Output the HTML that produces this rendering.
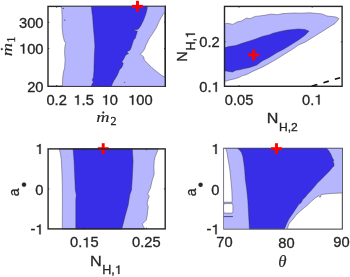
<!DOCTYPE html>
<html><head><meta charset="utf-8"><style>
html,body{margin:0;padding:0;background:#fff;width:350px;height:277px;overflow:hidden}
svg{display:block;filter:blur(0.35px);font-family:"Liberation Sans",sans-serif}
</style></head><body>
<svg width="350" height="277" viewBox="0 0 350 277">
<rect x="48.0" y="6.4" width="117.30000000000001" height="79.89999999999999" fill="none" stroke="#262626" stroke-width="1.4"/>
<line x1="56.6" y1="86.3" x2="56.6" y2="85.0" stroke="#262626" stroke-width="0.8"/><line x1="56.6" y1="6.4" x2="56.6" y2="7.7" stroke="#262626" stroke-width="0.8"/><line x1="83.6" y1="86.3" x2="83.6" y2="85.0" stroke="#262626" stroke-width="0.8"/><line x1="83.6" y1="6.4" x2="83.6" y2="7.7" stroke="#262626" stroke-width="0.8"/><line x1="109.8" y1="86.3" x2="109.8" y2="85.0" stroke="#262626" stroke-width="0.8"/><line x1="109.8" y1="6.4" x2="109.8" y2="7.7" stroke="#262626" stroke-width="0.8"/><line x1="140.3" y1="86.3" x2="140.3" y2="85.0" stroke="#262626" stroke-width="0.8"/><line x1="140.3" y1="6.4" x2="140.3" y2="7.7" stroke="#262626" stroke-width="0.8"/><line x1="48.0" y1="22.3" x2="49.3" y2="22.3" stroke="#262626" stroke-width="0.8"/><line x1="165.3" y1="22.3" x2="164.0" y2="22.3" stroke="#262626" stroke-width="0.8"/><line x1="48.0" y1="48.5" x2="49.3" y2="48.5" stroke="#262626" stroke-width="0.8"/><line x1="165.3" y1="48.5" x2="164.0" y2="48.5" stroke="#262626" stroke-width="0.8"/>
<polygon points="61.4,6.4 61.8,9.5 62.1,17.1 62.1,27.7 62.9,35.3 64.4,41.4 65.9,42.9 65.2,45.2 64.8,47.2 64.6,53.5 65.1,59.9 64.6,67.8 63.5,71.8 62.7,77.3 62.4,86.3 165.3,86.3 165.3,77.5 163.9,76.8 160.5,74.6 156.3,71.2 152.0,67.8 147.8,63.5 144.4,60.1 143.5,56.7 140.4,54.2 143.5,50.8 144.9,48.2 146.1,44.8 147.8,41.4 149.5,38.0 152.2,34.3 156.3,27.8 159.2,21.3 162.8,14.8 165.3,11.5 165.3,6.4" fill="rgb(182,182,255)" stroke="rgba(40,40,40,0.8)" stroke-width="0.5" stroke-linejoin="round"/>
<polygon points="91.4,6.4 92.0,12.6 92.6,16.4 93.4,27.7 94.1,35.3 94.9,45.9 94.4,53.5 94.0,66.2 94.0,70.0 93.4,77.2 92.2,80.2 93.4,82.0 92.2,83.8 91.4,86.3 111.4,86.3 112.6,83.2 113.8,80.8 115.0,79.0 116.8,76.0 118.0,73.6 118.6,72.1 119.4,69.9 121.5,67.8 122.6,65.6 123.2,63.4 121.9,61.8 123.7,59.1 125.3,55.8 127.0,54.2 128.6,53.5 127.0,52.6 127.5,51.5 130.2,49.9 131.3,47.2 132.0,45.0 133.6,40.0 135.2,38.3 137.4,31.2 132.9,30.0 138.2,29.2 140.5,26.2 143.5,20.2 145.8,14.1 147.0,9.5 147.3,6.4" fill="rgb(56,46,231)" stroke="rgba(40,40,40,0.8)" stroke-width="0.5" stroke-linejoin="round"/>
<ellipse cx="105.8" cy="80.6" rx="0.8" ry="0.55" fill="#3a3a50" opacity="0.75"/>
<ellipse cx="97.0" cy="84.2" rx="0.8" ry="0.55" fill="#3a3a50" opacity="0.75"/>
<ellipse cx="124.6" cy="82.2" rx="0.8" ry="0.55" fill="#3a3a50" opacity="0.75"/>
<ellipse cx="63.4" cy="8.4" rx="0.8" ry="0.55" fill="#3a3a50" opacity="0.75"/>
<ellipse cx="64.7" cy="20.1" rx="0.8" ry="0.55" fill="#3a3a50" opacity="0.75"/>
<ellipse cx="102.2" cy="8.3" rx="0.8" ry="0.55" fill="#3a3a50" opacity="0.75"/>
<line x1="165.3" y1="5.7" x2="165.3" y2="87.0" stroke="#262626" stroke-width="1.4"/>
<rect x="132.0" y="4.8999999999999995" width="11.0" height="2.9" fill="#ff0000"/><rect x="136.05" y="0.8499999999999996" width="2.9" height="11.0" fill="#ff0000"/>
<polygon points="224.5,23.9 227.7,23.3 232.9,24.4 236.9,22.1 241.4,21.0 246.6,18.1 250.0,18.7 255.1,16.4 260.0,15.9 265.7,15.1 271.4,14.1 277.1,14.7 282.9,13.6 294.3,13.0 300.0,13.2 310.0,12.8 322.0,13.9 327.0,16.0 336.0,17.0 339.0,18.6 335.0,23.4 325.0,29.7 315.0,36.0 305.0,42.2 298.4,45.1 291.2,50.0 283.9,54.5 276.7,59.1 269.5,63.2 262.2,67.2 253.2,71.2 246.3,74.7 242.8,75.5 239.3,77.3 235.9,78.5 228.9,80.2 224.5,81.6" fill="rgb(182,182,255)" stroke="rgba(40,40,40,0.8)" stroke-width="0.5" stroke-linejoin="round"/>
<polygon points="224.5,47.8 228.9,46.6 235.9,45.5 239.3,44.3 244.5,42.6 249.7,40.9 255.0,39.2 262.2,36.5 269.5,34.7 273.1,33.2 280.3,31.4 287.5,30.1 298.4,28.9 305.0,29.5 309.0,31.2 305.0,35.2 298.4,40.1 291.2,44.6 283.9,49.1 276.7,52.7 269.5,57.3 262.2,60.9 256.7,65.1 249.7,67.4 244.5,68.6 239.3,69.8 235.9,70.3 232.4,72.1 228.9,71.5 224.5,70.8" fill="rgb(56,46,231)" stroke="rgba(40,40,40,0.8)" stroke-width="0.5" stroke-linejoin="round"/>
<line x1="312.0" y1="86.1" x2="341.5" y2="77.3" stroke="#111" stroke-width="1.7" stroke-dasharray="5.6 6.3"/>
<rect x="224.5" y="6.4" width="117.60000000000002" height="79.89999999999999" fill="none" stroke="#262626" stroke-width="1.4"/>
<line x1="239.0" y1="86.3" x2="239.0" y2="85.0" stroke="#262626" stroke-width="0.8"/><line x1="239.0" y1="6.4" x2="239.0" y2="7.7" stroke="#262626" stroke-width="0.8"/><line x1="312.2" y1="86.3" x2="312.2" y2="85.0" stroke="#262626" stroke-width="0.8"/><line x1="312.2" y1="6.4" x2="312.2" y2="7.7" stroke="#262626" stroke-width="0.8"/><line x1="224.5" y1="41.8" x2="225.8" y2="41.8" stroke="#262626" stroke-width="0.8"/><line x1="342.1" y1="41.8" x2="340.8" y2="41.8" stroke="#262626" stroke-width="0.8"/>
<rect x="248.1" y="53.55" width="11.0" height="2.9" fill="#ff0000"/><rect x="252.15" y="49.5" width="2.9" height="11.0" fill="#ff0000"/>
<polygon points="59.3,148.9 60.5,154.0 61.3,160.0 62.0,175.0 62.3,185.0 62.4,200.0 62.3,228.9 144.7,228.9 143.1,225.9 142.3,224.0 146.4,219.9 147.2,215.8 147.7,211.0 148.3,206.9 147.2,203.7 148.0,199.6 149.3,196.4 147.7,193.9 148.8,191.5 150.4,188.2 151.2,185.0 151.8,182.0 152.6,179.1 154.2,174.2 153.9,167.7 154.2,161.2 155.0,157.2 156.7,153.1 158.3,148.9" fill="rgb(182,182,255)" stroke="rgba(40,40,40,0.8)" stroke-width="0.5" stroke-linejoin="round"/>
<polygon points="73.1,148.9 74.0,160.0 74.7,175.0 75.3,190.0 76.3,195.0 75.8,200.0 75.8,228.9 121.8,228.9 125.4,215.0 128.2,205.0 129.7,195.0 131.5,190.0 132.3,177.5 133.1,161.2 132.3,148.9" fill="rgb(56,46,231)" stroke="rgba(40,40,40,0.8)" stroke-width="0.5" stroke-linejoin="round"/>
<rect x="97.7" y="147.25" width="11.0" height="2.9" fill="#ff0000"/><rect x="101.75" y="143.2" width="2.9" height="11.0" fill="#ff0000"/>
<rect x="48.1" y="148.9" width="117.1" height="80.0" fill="none" stroke="#262626" stroke-width="1.4"/>
<line x1="84.3" y1="228.9" x2="84.3" y2="227.6" stroke="#262626" stroke-width="0.8"/><line x1="84.3" y1="148.9" x2="84.3" y2="150.20000000000002" stroke="#262626" stroke-width="0.8"/><line x1="146.4" y1="228.9" x2="146.4" y2="227.6" stroke="#262626" stroke-width="0.8"/><line x1="146.4" y1="148.9" x2="146.4" y2="150.20000000000002" stroke="#262626" stroke-width="0.8"/><line x1="48.1" y1="188.9" x2="49.4" y2="188.9" stroke="#262626" stroke-width="0.8"/><line x1="165.2" y1="188.9" x2="163.89999999999998" y2="188.9" stroke="#262626" stroke-width="0.8"/>
<rect x="224.0" y="148.5" width="118.10000000000002" height="80.30000000000001" fill="none" stroke="#262626" stroke-width="1.4"/>
<line x1="286.5" y1="228.8" x2="286.5" y2="227.5" stroke="#262626" stroke-width="0.8"/><line x1="286.5" y1="148.5" x2="286.5" y2="149.8" stroke="#262626" stroke-width="0.8"/><line x1="224.0" y1="188.6" x2="225.3" y2="188.6" stroke="#262626" stroke-width="0.8"/><line x1="342.1" y1="188.6" x2="340.8" y2="188.6" stroke="#262626" stroke-width="0.8"/>
<rect x="223.6" y="148.5" width="118.50000000000003" height="80.30000000000001" fill="rgb(182,182,255)"/>
<polygon points="223.6,148.5 225.7,148.5 227.0,152.6 227.8,157.7 228.9,164.0 229.9,170.3 230.8,179.2 231.8,190.0 232.2,200.0 232.0,202.2 223.6,202.2" fill="#fff" stroke="rgba(40,40,40,0.8)" stroke-width="0.5" stroke-linejoin="round"/>
<line x1="223.6" y1="202.95" x2="232.6" y2="202.95" stroke="#8a8aa8" stroke-width="1.1"/>
<rect x="223.6" y="203.6" width="9.3" height="9.5" rx="1.6" fill="#fff" stroke="rgba(40,40,40,0.8)" stroke-width="0.5"/>
<line x1="223.6" y1="216.6" x2="232.9" y2="216.6" stroke="#4a4a7a" stroke-width="1.0"/>
<polygon points="342.1,193.0 332.1,193.4 325.7,194.0 321.2,194.6 320.2,197.4 318.6,195.9 315.4,197.9 311.6,201.1 307.7,204.9 303.9,208.1 300.6,210.7 297.9,213.4 295.4,215.8 293.8,218.3 291.4,220.7 288.9,224.0 287.3,228.8 342.1,228.8" fill="#fff" stroke="rgba(40,40,40,0.8)" stroke-width="0.5" stroke-linejoin="round"/>
<polygon points="237.7,148.5 326.6,148.5 328.8,150.8 331.0,154.4 332.4,158.0 333.8,160.2 332.8,162.3 333.7,162.6 334.1,165.8 332.1,167.7 330.2,170.3 327.6,172.9 323.8,176.7 320.6,179.9 317.4,183.1 314.1,187.0 310.9,190.8 307.7,194.1 304.5,197.9 302.7,199.6 301.3,202.4 298.7,204.5 295.4,209.4 292.2,214.2 288.9,219.1 286.5,224.0 284.5,228.8 249.4,228.8 247.8,200.0 246.8,190.0 245.3,179.2 244.7,170.3 243.8,162.7 242.8,156.4 241.5,152.6 239.6,150.0" fill="rgb(56,46,231)" stroke="rgba(40,40,40,0.8)" stroke-width="0.5" stroke-linejoin="round"/>
<rect x="271.0" y="147.25" width="11.0" height="2.9" fill="#ff0000"/><rect x="275.05" y="143.2" width="2.9" height="11.0" fill="#ff0000"/>
<g stroke="#262626" stroke-width="0.3">
<text transform="translate(43.5,27.5) scale(1.05,1)" font-size="14" font-family="Liberation Sans, sans-serif" text-anchor="end" fill="#262626" >300</text>
<g transform="translate(43.5,53.6) scale(1.05,1)" fill="#262626"><text x="-23.36" y="0" font-size="14" font-family="Liberation Sans, sans-serif" ><tspan style="fill:none;stroke:none">0</tspan>00</text><path transform="translate(-23.36,0) scale(14,-14)" d="M0.362,0 L0.362,0.703 L0.292,0.703 C0.276,0.632 0.232,0.598 0.105,0.592 L0.105,0.528 L0.272,0.528 L0.272,0 Z" stroke-width="0.0214"/></g>
<text transform="translate(43.5,91.7) scale(1.05,1)" font-size="14" font-family="Liberation Sans, sans-serif" text-anchor="end" fill="#262626" >20</text>
<text transform="translate(56.6,104.8) scale(1.05,1)" font-size="14" font-family="Liberation Sans, sans-serif" text-anchor="middle" fill="#262626" >0.2</text>
<g transform="translate(83.6,104.8) scale(1.05,1)" fill="#262626"><text x="-9.73" y="0" font-size="14" font-family="Liberation Sans, sans-serif" ><tspan style="fill:none;stroke:none">0</tspan>.5</text><path transform="translate(-9.73,0) scale(14,-14)" d="M0.362,0 L0.362,0.703 L0.292,0.703 C0.276,0.632 0.232,0.598 0.105,0.592 L0.105,0.528 L0.272,0.528 L0.272,0 Z" stroke-width="0.0214"/></g>
<g transform="translate(109.8,104.8) scale(1.05,1)" fill="#262626"><text x="-7.79" y="0" font-size="14" font-family="Liberation Sans, sans-serif" ><tspan style="fill:none;stroke:none">0</tspan>0</text><path transform="translate(-7.79,0) scale(14,-14)" d="M0.362,0 L0.362,0.703 L0.292,0.703 C0.276,0.632 0.232,0.598 0.105,0.592 L0.105,0.528 L0.272,0.528 L0.272,0 Z" stroke-width="0.0214"/></g>
<g transform="translate(140.3,104.8) scale(1.05,1)" fill="#262626"><text x="-11.68" y="0" font-size="14" font-family="Liberation Sans, sans-serif" ><tspan style="fill:none;stroke:none">0</tspan>00</text><path transform="translate(-11.68,0) scale(14,-14)" d="M0.362,0 L0.362,0.703 L0.292,0.703 C0.276,0.632 0.232,0.598 0.105,0.592 L0.105,0.528 L0.272,0.528 L0.272,0 Z" stroke-width="0.0214"/></g>
<text transform="translate(219.7,47.1) scale(1.05,1)" font-size="14" font-family="Liberation Sans, sans-serif" text-anchor="end" fill="#262626" >0.2</text>
<g transform="translate(219.7,91.8) scale(1.05,1)" fill="#262626"><text x="-19.46" y="0" font-size="14" font-family="Liberation Sans, sans-serif" >0.<tspan style="fill:none;stroke:none">0</tspan></text><path transform="translate(-7.79,0) scale(14,-14)" d="M0.362,0 L0.362,0.703 L0.292,0.703 C0.276,0.632 0.232,0.598 0.105,0.592 L0.105,0.528 L0.272,0.528 L0.272,0 Z" stroke-width="0.0214"/></g>
<text transform="translate(239.0,104.5) scale(1.05,1)" font-size="14" font-family="Liberation Sans, sans-serif" text-anchor="middle" fill="#262626" >0.05</text>
<g transform="translate(312.2,104.5) scale(1.05,1)" fill="#262626"><text x="-9.73" y="0" font-size="14" font-family="Liberation Sans, sans-serif" >0.<tspan style="fill:none;stroke:none">0</tspan></text><path transform="translate(1.94,0) scale(14,-14)" d="M0.362,0 L0.362,0.703 L0.292,0.703 C0.276,0.632 0.232,0.598 0.105,0.592 L0.105,0.528 L0.272,0.528 L0.272,0 Z" stroke-width="0.0214"/></g>
<g transform="translate(43.5,153.9) scale(1.05,1)" fill="#262626"><text x="-7.79" y="0" font-size="14" font-family="Liberation Sans, sans-serif" ><tspan style="fill:none;stroke:none">0</tspan></text><path transform="translate(-7.79,0) scale(14,-14)" d="M0.362,0 L0.362,0.703 L0.292,0.703 C0.276,0.632 0.232,0.598 0.105,0.592 L0.105,0.528 L0.272,0.528 L0.272,0 Z" stroke-width="0.0214"/></g>
<text transform="translate(43.5,194.7) scale(1.05,1)" font-size="14" font-family="Liberation Sans, sans-serif" text-anchor="end" fill="#262626" >0</text>
<g transform="translate(43.5,234.3) scale(1.05,1)" fill="#262626"><text x="-12.45" y="0" font-size="14" font-family="Liberation Sans, sans-serif" >-<tspan style="fill:none;stroke:none">0</tspan></text><path transform="translate(-7.79,0) scale(14,-14)" d="M0.362,0 L0.362,0.703 L0.292,0.703 C0.276,0.632 0.232,0.598 0.105,0.592 L0.105,0.528 L0.272,0.528 L0.272,0 Z" stroke-width="0.0214"/></g>
<g transform="translate(84.3,247.3) scale(1.05,1)" fill="#262626"><text x="-13.62" y="0" font-size="14" font-family="Liberation Sans, sans-serif" >0.<tspan style="fill:none;stroke:none">0</tspan>5</text><path transform="translate(-1.95,0) scale(14,-14)" d="M0.362,0 L0.362,0.703 L0.292,0.703 C0.276,0.632 0.232,0.598 0.105,0.592 L0.105,0.528 L0.272,0.528 L0.272,0 Z" stroke-width="0.0214"/></g>
<text transform="translate(146.4,247.3) scale(1.05,1)" font-size="14" font-family="Liberation Sans, sans-serif" text-anchor="middle" fill="#262626" >0.25</text>
<g transform="translate(219.5,153.9) scale(1.05,1)" fill="#262626"><text x="-7.79" y="0" font-size="14" font-family="Liberation Sans, sans-serif" ><tspan style="fill:none;stroke:none">0</tspan></text><path transform="translate(-7.79,0) scale(14,-14)" d="M0.362,0 L0.362,0.703 L0.292,0.703 C0.276,0.632 0.232,0.598 0.105,0.592 L0.105,0.528 L0.272,0.528 L0.272,0 Z" stroke-width="0.0214"/></g>
<text transform="translate(219.5,194.5) scale(1.05,1)" font-size="14" font-family="Liberation Sans, sans-serif" text-anchor="end" fill="#262626" >0</text>
<g transform="translate(219.5,234.3) scale(1.05,1)" fill="#262626"><text x="-12.45" y="0" font-size="14" font-family="Liberation Sans, sans-serif" >-<tspan style="fill:none;stroke:none">0</tspan></text><path transform="translate(-7.79,0) scale(14,-14)" d="M0.362,0 L0.362,0.703 L0.292,0.703 C0.276,0.632 0.232,0.598 0.105,0.592 L0.105,0.528 L0.272,0.528 L0.272,0 Z" stroke-width="0.0214"/></g>
<text transform="translate(224.4,247.2) scale(1.05,1)" font-size="14" font-family="Liberation Sans, sans-serif" text-anchor="middle" fill="#262626" >70</text>
<text transform="translate(286.5,247.5) scale(1.05,1)" font-size="14" font-family="Liberation Sans, sans-serif" text-anchor="middle" fill="#262626" >80</text>
<text transform="translate(341.5,247.2) scale(1.05,1)" font-size="14" font-family="Liberation Sans, sans-serif" text-anchor="middle" fill="#262626" >90</text>
<text transform="translate(266.8,123.3) scale(1.15,1)" font-size="14" font-family="Liberation Sans, sans-serif" text-anchor="start" fill="#262626" >N</text>
<text transform="translate(279.0,131.3) scale(1.05,1)" font-size="11.5" font-family="Liberation Sans, sans-serif" text-anchor="start" fill="#262626" >H,2</text>
<text transform="translate(90.0,266.3) scale(1.05,1)" font-size="15.5" font-family="Liberation Sans, sans-serif" text-anchor="start" fill="#262626" >N</text>
<g transform="translate(102.2,273.9) scale(1.05,1)" fill="#262626"><text x="0.00" y="0" font-size="12" font-family="Liberation Sans, sans-serif" >H,<tspan style="fill:none;stroke:none">0</tspan></text><path transform="translate(12.00,0) scale(12,-12)" d="M0.362,0 L0.362,0.703 L0.292,0.703 C0.276,0.632 0.232,0.598 0.105,0.592 L0.105,0.528 L0.272,0.528 L0.272,0 Z" stroke-width="0.0250"/></g>
<text transform="translate(278.3,266.6) scale(1.05,1)" font-size="16" font-family="Liberation Serif, serif" text-anchor="start" fill="#262626" font-style="italic" stroke-width="0.15">θ</text>
<text transform="translate(96.3,122.1) scale(1.31,1)" font-size="14" font-family="Liberation Serif, serif" font-style="italic" fill="#262626" stroke-width="0.15">m</text>
<circle cx="103.3" cy="112.5" r="0.95" fill="#262626"/>
<text transform="translate(110.4,124.9) scale(1.05,1)" font-size="11.5" font-family="Liberation Serif, serif" text-anchor="start" fill="#262626" >2</text>
<text transform="translate(11.8,56.3) rotate(-90) scale(1.31,1)" font-size="14" font-family="Liberation Serif, serif" font-style="italic" fill="#262626" stroke-width="0.15">m</text>
<circle cx="1.8" cy="49.1" r="0.95" fill="#262626"/>
<text transform="translate(14.6,42.6) scale(1.05,1) rotate(-90)" font-size="11.5" font-family="Liberation Serif, serif" text-anchor="start" fill="#262626" >1</text>
<text transform="translate(187.2,61.8) scale(1.05,1) rotate(-90)" font-size="14.5" font-family="Liberation Sans, sans-serif" text-anchor="start" fill="#262626" >N</text>
<g transform="translate(194.9,50.6) scale(1.05,1) rotate(-90)" fill="#262626"><text x="0.00" y="0" font-size="12.5" font-family="Liberation Sans, sans-serif" >H,<tspan style="fill:none;stroke:none">0</tspan></text><path transform="translate(12.50,0) scale(12.5,-12.5)" d="M0.362,0 L0.362,0.703 L0.292,0.703 C0.276,0.632 0.232,0.598 0.105,0.592 L0.105,0.528 L0.272,0.528 L0.272,0 Z" stroke-width="0.0240"/></g>
<text transform="translate(19.3,196.2) scale(1.05,1) rotate(-90)" font-size="14" font-family="Liberation Sans, sans-serif" text-anchor="start" fill="#262626" >a</text>
<circle cx="24" cy="184.7" r="2.1" fill="#262626"/>
<text transform="translate(195.8,196.2) scale(1.05,1) rotate(-90)" font-size="14" font-family="Liberation Sans, sans-serif" text-anchor="start" fill="#262626" >a</text>
<circle cx="200.6" cy="184.8" r="2.1" fill="#262626"/>
</g>
</svg>
</body></html>
